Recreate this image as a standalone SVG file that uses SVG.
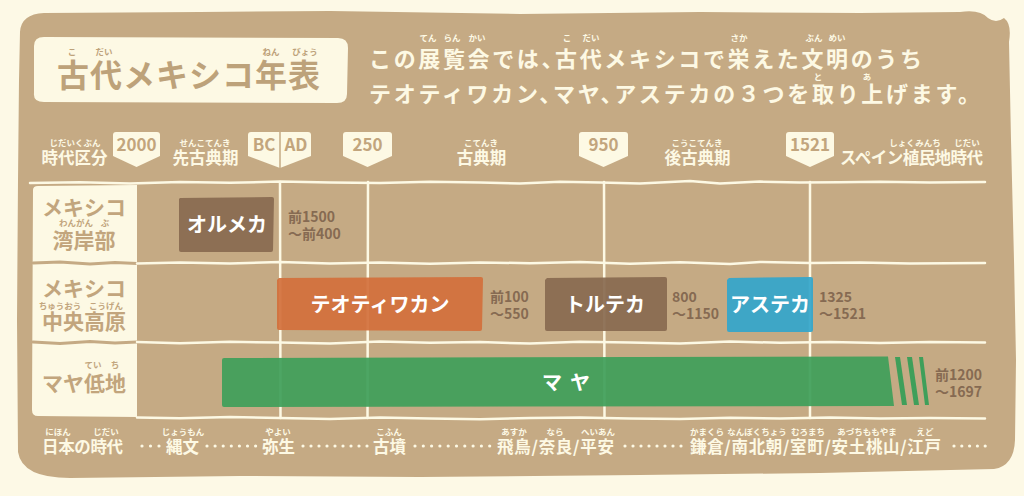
<svg xmlns="http://www.w3.org/2000/svg" width="1024" height="496" viewBox="0 0 1024 496">
<style>
text { font-family: "Noto Sans CJK JP", "Noto Sans", sans-serif; font-weight: 700; }
.c { fill: #fdf9e4; }
.t { fill: #c2a57d; }
.d { fill: #866a52; font-size: 14px; }
.rb { font-size: 8.5px; text-anchor: middle; }
.hd { font-size: 16.5px; fill: #fdf9e4; text-anchor: middle; }
.pn { fill: #fdf9e4; }
.pt { font-size: 17px; fill: #c2a57d; text-anchor: middle; }
.grid { stroke: #fdf9e4; stroke-width: 2.5; fill: none; stroke-linecap: round; stroke-linejoin: round; }
.sep { stroke: #c5aa84; stroke-width: 3; fill: none; stroke-linecap: round; }
.bt { font-size: 20px; fill: #ffffff; text-anchor: middle; }
.lb { font-size: 21px; fill: #c2a57d; text-anchor: middle; }
.bo { font-size: 16.5px; fill: #fdf9e4; }
.desc { font-size: 22px; font-feature-settings: "halt"; }
.dots { stroke: #fdf9e4; stroke-width: 3.2; stroke-linecap: round; }
</style>
<rect width="1024" height="496" fill="#fdf9e6"/>
<!-- board -->
<path d="M20,32 Q21,14 44,13 L200,12 L330,11 L520,14 L700,12 L860,13 L960,12 Q980,9 988,18 Q996,24 1004,18 Q1012,24 1009,42 L1011,140 L1014,260 L1016,360 L1015,440 Q1014,466 994,469 L820,473 L640,475 L420,477 L240,476 L70,478 Q22,478 18,452 L17,320 L18,180 L19,80 Z" fill="#c5aa84"/>

<!-- title -->
<g id="title">
<path d="M34,46 Q34,37 44,37 L338,38 Q348,38 348,48 L347,94 Q347,103 337,103 L44,102 Q33,102 34,93 Z" fill="#fdf9e4"/>
<text x="57" y="87" font-size="32" letter-spacing="1" fill="#bda27a">古代メキシコ年表</text>
<text class="rb" x="72" y="55" fill="#bda27a">こ</text>
<text class="rb" x="104" y="55" fill="#bda27a">だい</text>
<text class="rb" x="271" y="55" fill="#bda27a">ねん</text>
<text class="rb" x="305" y="55" fill="#bda27a">びょう</text>
</g>

<!-- description -->
<g id="description" class="c">
<text class="desc" x="369" y="67" textLength="553" lengthAdjust="spacing">この展覧会では、古代メキシコで栄えた文明のうち</text>
<text class="desc" x="369" y="102" textLength="600" lengthAdjust="spacing">テオティワカン、マヤ、アステカの３つを取り上げます。</text>
<text class="rb" x="428" y="41" font-size="9">てん</text>
<text class="rb" x="452" y="41" font-size="9">らん</text>
<text class="rb" x="477" y="41" font-size="9">かい</text>
<text class="rb" x="567" y="41" font-size="9">こ</text>
<text class="rb" x="591" y="41" font-size="9">だい</text>
<text class="rb" x="739" y="41" font-size="9">さか</text>
<text class="rb" x="814" y="41" font-size="9">ぶん</text>
<text class="rb" x="837" y="41" font-size="9">めい</text>
<text class="rb" x="818" y="80" font-size="9">と</text>
<text class="rb" x="867" y="80" font-size="9">あ</text>
</g>

<!-- header -->
<g id="header">
<text class="hd" x="74.5" y="164">時代区分</text>
<text class="rb c" x="75" y="146">じだいくぶん</text>
<path class="pn" d="M113,135 Q113,132 116,132 L157,132 Q160,132 160,135 L160,156 L136.5,167 L113,156 Z"/>
<text class="pt" x="136.5" y="151">2000</text>
<text class="hd" x="205.5" y="164">先古典期</text>
<text class="rb c" x="205" y="146">せんこてんき</text>
<path class="pn" d="M248,135 Q248,132 251,132 L308,132 Q311,132 311,135 L311,156 L280,168 L248,156 Z"/>
<line x1="280" y1="132" x2="280" y2="168" stroke="#c5aa84" stroke-width="1.5"/>
<text class="pt" x="264" y="151">BC</text>
<text class="pt" x="296" y="151">AD</text>
<path class="pn" d="M343,135 Q343,132 346,132 L389,132 Q392,132 392,135 L392,156 L367.5,167 L343,156 Z"/>
<text class="pt" x="367.5" y="151">250</text>
<text class="hd" x="481.5" y="164">古典期</text>
<text class="rb c" x="481" y="146">こてんき</text>
<path class="pn" d="M579,135 Q579,132 582,132 L625,132 Q628,132 628,135 L628,156 L603.5,167 L579,156 Z"/>
<text class="pt" x="603.5" y="151">950</text>
<text class="hd" x="697.5" y="164">後古典期</text>
<text class="rb c" x="697" y="146">こうこてんき</text>
<path class="pn" d="M786,135 Q786,132 789,132 L831,132 Q834,132 834,135 L834,156 L810,167 L786,156 Z"/>
<text class="pt" x="810" y="151">1521</text>
<text class="hd" x="911.5" y="164" textLength="143" lengthAdjust="spacing">スペイン植民地時代</text>
<text class="rb c" x="915" y="146">しょくみんち</text>
<text class="rb c" x="967" y="146">じだい</text>
</g>

<!-- region column -->
<g id="regions">
<path d="M33,190 Q33,186 38,186 L137,185 L137,417 L38,416 Q32,416 32,410 Z" fill="#fdf9e4"/>
<polyline class="sep" points="33,263 60,262 90,264 115,262.5 137,263.5"/>
<polyline class="sep" points="33,342 60,343.5 90,341.5 115,343 137,342"/>
<text class="lb" x="84" y="215">メキシコ</text>
<text class="rb t" x="76" y="226">わんがん</text>
<text class="rb t" x="105" y="226">ぶ</text>
<text class="lb" x="84" y="248">湾岸部</text>
<text class="lb" x="84" y="296">メキシコ</text>
<text class="rb t" x="60" y="309">ちゅうおう</text>
<text class="rb t" x="106" y="309">こうげん</text>
<text class="lb" x="84" y="329">中央高原</text>
<text class="rb t" x="93" y="368">てい</text>
<text class="rb t" x="115" y="368">ち</text>
<text class="lb" x="84" y="391">マヤ低地</text>
</g>

<!-- grid -->
<g id="grid" class="grid">
<polyline points="30,183 80,182.3 130,183.4 180,182 230,182.8 280,181.6 330,182.5 380,183 430,181.8 480,182.6 520,183.5 560,181.8 600,182.5 640,183.4 690,181 720,183.6 760,181.6 800,182.6 840,182.2 880,181.8 930,182.5 985,182"/>
<polyline points="137,263.5 180,262.5 230,263.6 280,262 330,263.5 380,262.4 430,263.8 480,262.4 530,263.2 580,262 630,263.8 680,262.2 730,264 760,262 810,263 860,262.4 910,263.5 985,263"/>
<polyline points="137,342 180,343.2 230,341.8 280,342.6 330,343.5 380,341.6 430,342.8 480,342 530,343.6 580,341.8 630,342.5 680,343.4 730,341.6 780,342.8 830,342 880,343 930,342 985,342.6"/>
<polyline points="137,417.5 180,418.2 230,417 280,418 330,419 380,417.6 430,418.4 480,419.2 530,418 580,417.4 630,418.6 680,419 730,417.8 780,418.4 830,417.6 880,418.6 930,418 985,418.4"/>
<line x1="280" y1="182" x2="280.5" y2="418"/>
<line x1="368" y1="182" x2="367.5" y2="418"/>
<line x1="604" y1="182" x2="604.5" y2="418"/>
<line x1="810" y1="182" x2="810" y2="418"/>
</g>

<!-- bars -->
<g id="olmec">
<path d="M180,198 L272,197 Q274,197 274,199 L273,250 Q273,252 271,252 L181,252 Q179,252 179,250 L179,199 Z" fill="#896a51" opacity="0.93"/>
<text class="bt" x="227" y="232">オルメカ</text>
<text class="d" x="288" y="222">前1500</text>
<text class="d" x="288" y="239">～前400</text>
</g>
<g id="teotihuacan">
<path d="M279,278 L481,277 Q483,277 483,279 L482,329 Q482,331 480,331 L279,330 Q277,330 277,328 L277,280 Z" fill="#d3703c" opacity="0.93"/>
<text class="bt" x="380" y="312">テオティワカン</text>
<text class="d" x="490" y="302">前100</text>
<text class="d" x="490" y="319">～550</text>
</g>
<g id="toltec">
<path d="M547,278 L665,277 Q667,277 667,279 L667,329 Q667,331 665,331 L547,331 Q545,331 545,329 L545,280 Z" fill="#896a51" opacity="0.93"/>
<text class="bt" x="605" y="312">トルテカ</text>
<text class="d" x="672" y="302">800</text>
<text class="d" x="672" y="319">～1150</text>
</g>
<g id="aztec">
<path d="M729,278 L811,277 Q813,277 813,279 L813,330 Q813,332 811,332 L729,332 Q727,332 727,330 L727,280 Z" fill="#34a6cb" opacity="0.93"/>
<text class="bt" x="770" y="312" font-size="19">アステカ</text>
<text class="d" x="819" y="302">1325</text>
<text class="d" x="819" y="319">～1521</text>
</g>
<g id="maya">
<path d="M224,358 L888,356.5 L894,406 L224,407 Q222,407 222,405 L222,360 Q222,358 224,358 Z" fill="#3f9f5a" opacity="0.93"/>
<polygon points="895,357 900,357 907,405 902,405" fill="#3f9f5a"/>
<polygon points="907,357 912,357 919,405 914,405" fill="#3f9f5a"/>
<polygon points="919,357 923,357 929,405 925,405" fill="#3f9f5a"/>
<text class="bt" x="570" y="390" letter-spacing="8">マヤ</text>
<text class="d" x="935" y="380">前1200</text>
<text class="d" x="935" y="397">～1697</text>
</g>

<!-- Japanese periods -->
<g id="japan">
<text class="bo" x="42" y="453" textLength="81" lengthAdjust="spacing">日本の時代</text>
<text class="rb c" x="58" y="435">にほん</text>
<text class="rb c" x="106" y="435">じだい</text>
<line class="dots" x1="142" y1="446" x2="159.1" y2="446" stroke-dasharray="0 8.5"/>
<text class="bo" x="166" y="453">縄文</text>
<text class="rb c" x="183" y="435">じょうもん</text>
<line class="dots" x1="207" y1="446" x2="255.7" y2="446" stroke-dasharray="0 8.1"/>
<text class="bo" x="262" y="453">弥生</text>
<text class="rb c" x="278" y="435">やよい</text>
<line class="dots" x1="303" y1="446" x2="367.1" y2="446" stroke-dasharray="0 8"/>
<text class="bo" x="373" y="453">古墳</text>
<text class="rb c" x="389" y="435">こふん</text>
<line class="dots" x1="415" y1="446" x2="489.8" y2="446" stroke-dasharray="0 8.3"/>
<text class="bo" x="497" y="453" textLength="117" lengthAdjust="spacing">飛鳥/奈良/平安</text>
<text class="rb c" x="514" y="435">あすか</text>
<text class="rb c" x="555" y="435">なら</text>
<text class="rb c" x="598" y="435">へいあん</text>
<line class="dots" x1="625" y1="446" x2="681.1" y2="446" stroke-dasharray="0 8"/>
<text class="bo" x="690" y="453" textLength="251" lengthAdjust="spacing">鎌倉/南北朝/室町/安土桃山/江戸</text>
<text class="rb c" x="707" y="435">かまくら</text>
<text class="rb c" x="757" y="435">なんぼくちょう</text>
<text class="rb c" x="808" y="435">むろまち</text>
<text class="rb c" x="867" y="435">あづちももやま</text>
<text class="rb c" x="925" y="435">えど</text>
<line class="dots" x1="954" y1="446" x2="985.3" y2="446" stroke-dasharray="0 7.8"/>
</g>
</svg>
